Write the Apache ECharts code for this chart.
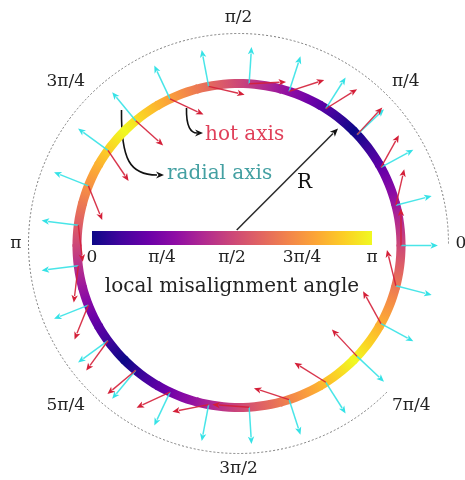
<!DOCTYPE html>
<html>
<head>
<meta charset="utf-8">
<script src="https://cdn.jsdelivr.net/npm/echarts@6/dist/echarts.min.js"></script>
<style>
  html, body { margin: 0; padding: 0; background: #ffffff; }
  #chart { width: 465px; height: 480px; }
</style>
</head>
<body>
<div id="chart"></div>
<script>
// Angle labels around the outer dashed circle
const compassLabels = ['0', 'π/4', 'π/2', '3π/4', 'π', '5π/4', '3π/2', '7π/4'];

// Colour-bar tick labels (local misalignment angle, 0 … π)
const colorbarTicks = ['0', 'π/4', 'π/2', '3π/4', 'π'];

// Position on the ring (deg) and the local misalignment angle there (deg)
const ringPosition = [0, 15, 30, 45, 60, 75, 90, 105, 120, 135, 150, 165,
                      180, 195, 210, 225, 240, 255, 270, 285, 300, 315, 330, 345];
const ringMisalignment = [90, 60, 30, 0, 30, 60, 90, 120, 150, 180, 150, 120,
                          90, 60, 30, 0, 30, 60, 90, 120, 150, 180, 150, 120];

// Stations where the radial axis and the hot axis are drawn (deg)
const stationPosition = [0, 14.4, 28.8, 43.2, 57.6, 72, 86.4, 100.8, 115.2, 129.6,
                         144, 158.4, 172.8, 187.2, 201.6, 216, 230.4, 244.8, 259.2,
                         273.6, 288, 302.4, 316.8, 331.2, 345.6];
// Direction of the hot axis at each station (deg, measured from the +x axis)
const hotAxisDirection = [90, 77, 61, 47, 32, 18, 3, -13, -25, -42, -56, -68, -83,
                          -97, -112, -126, -140, -155, -169, 176, 162, 148, 133, 119, 104];

// ---- styling ----
const SERIF = '"DejaVu Serif", "Liberation Serif", serif';
const TEXT_COLOR = '#222222';
const CYAN = '#35e2e6';
const RED = '#d41f38';
const RING_HALF_WIDTH = 0.028;   // in ring radii
const ARROW_LEN = 0.228;         // in ring radii

// matplotlib "plasma" colour map
const PLASMA = ['#0d0887', '#41049d', '#6a00a8', '#8f0da4', '#b12a90', '#cc4778',
                '#e16462', '#f2844b', '#fca636', '#fcce25', '#f0f921'];
function hexToRgb(h) {
  return [parseInt(h.slice(1, 3), 16), parseInt(h.slice(3, 5), 16), parseInt(h.slice(5, 7), 16)];
}
function plasma(t) {
  t = Math.max(0, Math.min(1, t));
  const s = t * (PLASMA.length - 1);
  const i = Math.min(Math.floor(s), PLASMA.length - 2);
  const f = s - i;
  const a = hexToRgb(PLASMA[i]), b = hexToRgb(PLASMA[i + 1]);
  const c = a.map((v, k) => Math.round(v + (b[k] - v) * f));
  return 'rgb(' + c.join(',') + ')';
}
function linearGradient(x0, y0, x1, y1, stops) {
  return { type: 'linear', x: x0, y: y0, x2: x1, y2: y1, colorStops: stops, global: true };
}

// arrow between two pixel points: shaft plus a small filled head
function arrowShape(p0, p1, color, width, headLen, headHalf) {
  const dx = p1[0] - p0[0], dy = p1[1] - p0[1];
  const len = Math.hypot(dx, dy) || 1;
  const ux = dx / len, uy = dy / len, nx = -uy, ny = ux;
  const bx = p1[0] - ux * headLen, by = p1[1] - uy * headLen;
  return [
    { type: 'line', shape: { x1: p0[0], y1: p0[1], x2: bx + ux, y2: by + uy },
      style: { stroke: color, lineWidth: width, opacity: 0.9 } },
    { type: 'polygon', shape: { points: [
        [p1[0], p1[1]],
        [bx + nx * headHalf, by + ny * headHalf],
        [bx + ux * headLen * 0.25, by + uy * headLen * 0.25],
        [bx - nx * headHalf, by - ny * headHalf]] },
      style: { fill: color } }
  ];
}

function toPolar(x, y) {
  return [Math.hypot(x, y), (Math.atan2(y, x) * 180 / Math.PI + 360) % 360];
}

// one coloured arc segment of the ring
function renderRing(params, api) {
  const i = params.dataIndex, n = ringPosition.length;
  const j = (i + 1) % n;
  const a0 = api.value(1);
  const a1 = ringPosition[j] + (j === 0 ? 360 : 0);
  const m0 = api.value(2), m1 = ringMisalignment[j];
  const rIn = 1 - RING_HALF_WIDTH, rOut = 1 + RING_HALF_WIDTH;
  const steps = 8, pad = 0.4;
  const outer = [], inner = [];
  for (let k = 0; k <= steps; k++) {
    const a = (a0 - pad) + (a1 - a0 + 2 * pad) * k / steps;
    outer.push(api.coord([rOut, a]));
    inner.unshift(api.coord([rIn, a]));
  }
  const s = api.coord([1, a0]), e = api.coord([1, a1]);
  const stops = [];
  for (let k = 0; k <= 4; k++) {
    stops.push({ offset: k / 4, color: plasma((m0 + (m1 - m0) * k / 4) / 180) });
  }
  return {
    type: 'polygon',
    shape: { points: outer.concat(inner) },
    style: { fill: linearGradient(s[0], s[1], e[0], e[1], stops) }
  };
}

// radial axis (cyan) and hot axis (red) at one station
function renderStation(params, api) {
  const pos = api.value(1), dir = api.value(2);
  const t = pos * Math.PI / 180, f = dir * Math.PI / 180;
  const base = api.coord([1, pos]);
  const radialTip = api.coord([1 + ARROW_LEN, pos]);
  const hot = toPolar(Math.cos(t) + ARROW_LEN * Math.cos(f), Math.sin(t) + ARROW_LEN * Math.sin(f));
  const hotTip = api.coord(hot);
  return {
    type: 'group',
    children: arrowShape(base, radialTip, CYAN, 1.5, 7.5, 3.2)
      .concat(arrowShape(base, hotTip, RED, 1.4, 7.5, 3.2))
  };
}

// horizontal colour bar
function renderColorbar(params, api) {
  const p0 = api.coord([0, 1]), p1 = api.coord([colorbarTicks.length - 1, 0]);
  const stops = PLASMA.map((c, k) => ({ offset: k / (PLASMA.length - 1), color: c }));
  return {
    type: 'rect',
    shape: { x: p0[0], y: p0[1], width: p1[0] - p0[0], height: p1[1] - p0[1] },
    style: { fill: linearGradient(p0[0], 0, p1[0], 0, stops) }
  };
}

// curved pointer arrow for the annotations
function pointer(curve, tip, dir) {
  const len = 8, half = 3.5;
  const bx = tip[0] - dir[0] * len, by = tip[1] - dir[1] * len;
  const nx = -dir[1], ny = dir[0];
  return [
    { type: 'bezierCurve', shape: curve,
      style: { stroke: '#111', lineWidth: 1.6, fill: null } },
    { type: 'polygon', shape: { points: [tip,
        [bx + nx * half, by + ny * half], [bx + dir[0] * 2.5, by + dir[1] * 2.5],
        [bx - nx * half, by - ny * half]] },
      style: { fill: '#111' } }
  ];
}

const chart = echarts.init(document.getElementById('chart'));

chart.setOption({
  backgroundColor: '#ffffff',
  animation: false,
  polar: [
    { center: [238.5, 243.5], radius: 210 },
    { center: [239, 245.5], radius: 162 * 1.3 }
  ],
  angleAxis: [
    {
      polarIndex: 0, type: 'category', data: compassLabels,
      startAngle: 0, clockwise: false, boundaryGap: false,
      axisLine: { lineStyle: { color: '#7c7c7c', width: 1, type: [2, 2] } },
      axisTick: { show: false }, splitLine: { show: false },
      axisLabel: { margin: 7, color: TEXT_COLOR, fontFamily: SERIF, fontSize: 17 }
    },
    {
      polarIndex: 1, type: 'value', min: 0, max: 360,
      startAngle: 0, clockwise: false, show: false
    }
  ],
  radiusAxis: [
    { polarIndex: 0, show: false, min: 0, max: 1 },
    { polarIndex: 1, show: false, min: 0, max: 1.3 }
  ],
  grid: { left: 92, top: 231, width: 280, height: 14 },
  xAxis: {
    type: 'value', min: 0, max: colorbarTicks.length - 1, interval: 1,
    axisLine: { show: false }, axisTick: { show: false }, splitLine: { show: false },
    axisLabel: { margin: 4, color: TEXT_COLOR, fontFamily: SERIF, fontSize: 17,
                 formatter: v => colorbarTicks[v] },
    name: 'local misalignment angle', nameLocation: 'middle', nameGap: 32,
    nameTextStyle: { color: TEXT_COLOR, fontFamily: SERIF, fontSize: 20 }
  },
  yAxis: { type: 'value', min: 0, max: 1, show: false },
  series: [
    {
      type: 'custom', coordinateSystem: 'polar', polarIndex: 1, z: 2,
      data: ringPosition.map((p, i) => [1, p, ringMisalignment[i]]),
      renderItem: renderRing
    },
    {
      type: 'custom', coordinateSystem: 'polar', polarIndex: 1, z: 4,
      data: stationPosition.map((p, i) => [1, p, hotAxisDirection[i]]),
      renderItem: renderStation
    },
    {
      type: 'custom', coordinateSystem: 'cartesian2d', z: 5,
      data: [[0, 0]],
      renderItem: renderColorbar
    }
  ],
  graphic: [
    { type: 'group', z: 3, children: arrowShape([236.7, 230], [338, 128.5], '#111', 1.5, 8, 3.5) },
    { type: 'text', z: 6, x: 297, y: 183,
      style: { text: 'R', font: '20px ' + SERIF, fill: '#111', verticalAlign: 'middle' } },
    { type: 'text', z: 6, x: 205, y: 135,
      style: { text: 'hot axis', font: '20px ' + SERIF, fill: '#e0405a', verticalAlign: 'middle' } },
    { type: 'text', z: 6, x: 167, y: 174,
      style: { text: 'radial axis', font: '20px ' + SERIF, fill: '#44a0a2', verticalAlign: 'middle' } },
    { type: 'group', z: 6,
      children: pointer({ x1: 186.5, y1: 108, cpx1: 186, cpy1: 127, cpx2: 191, cpy2: 133, x2: 197, y2: 133 },
                        [203, 133], [1, 0]) },
    { type: 'group', z: 6,
      children: pointer({ x1: 121.5, y1: 110, cpx1: 121, cpy1: 160, cpx2: 130, cpy2: 175, x2: 157, y2: 175 },
                        [164, 175], [1, 0]) }
  ]
});
</script>
</body>
</html>
